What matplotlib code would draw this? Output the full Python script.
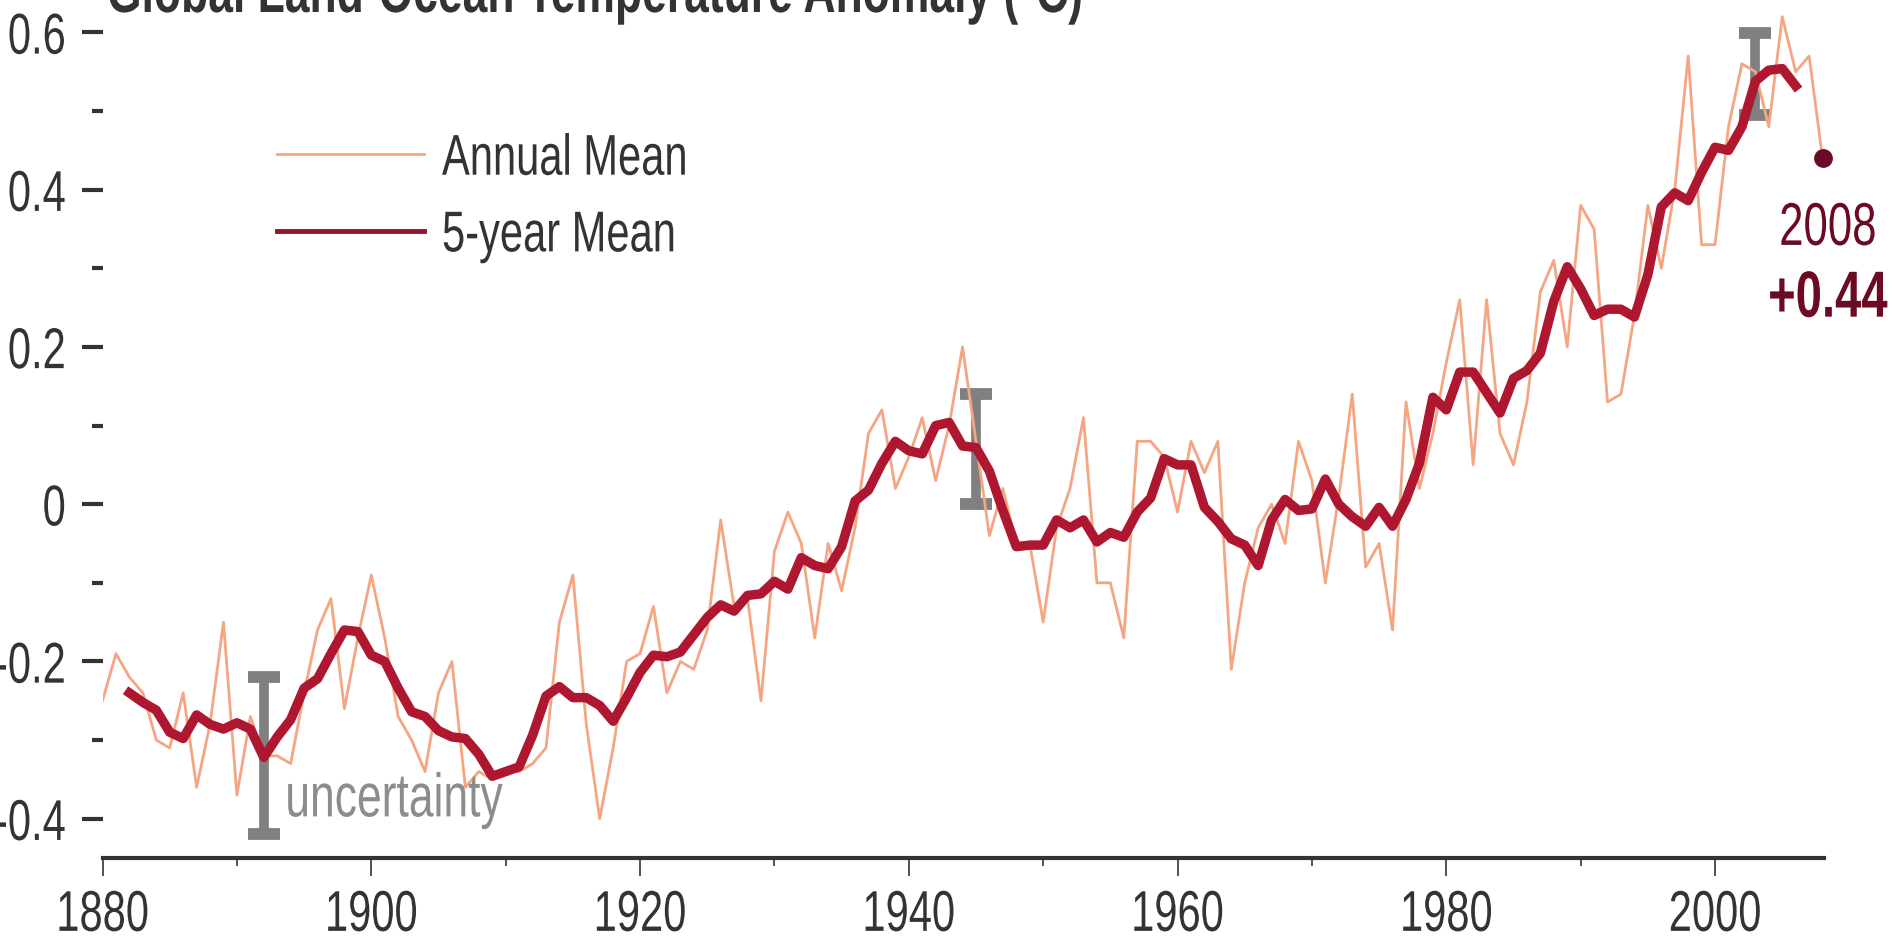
import matplotlib
matplotlib.use('Agg')
import matplotlib.pyplot as plt
from matplotlib import patheffects
from matplotlib.lines import Line2D
from matplotlib.ticker import MultipleLocator
from matplotlib.transforms import Affine2D

plt.rcParams['font.family'] = ['Liberation Sans', 'DejaVu Sans']
plt.rcParams['axes.unicode_minus'] = False

# annual global land-ocean temperature anomaly (deg C), 1880-2008
years = list(range(1880, 2009))
annual_mean = [
    -0.25, -0.19, -0.22, -0.24, -0.30, -0.31, -0.24, -0.36, -0.28, -0.15,  # 1880s
    -0.37, -0.27, -0.32, -0.32, -0.33, -0.24, -0.16, -0.12, -0.26, -0.17,  # 1890s
    -0.09, -0.17, -0.27, -0.30, -0.34, -0.24, -0.20, -0.36, -0.34, -0.35,  # 1900s
    -0.34, -0.34, -0.33, -0.31, -0.15, -0.09, -0.28, -0.40, -0.31, -0.20,  # 1910s
    -0.19, -0.13, -0.24, -0.20, -0.21, -0.16, -0.02, -0.13, -0.12, -0.25,  # 1920s
    -0.06, -0.01, -0.05, -0.17, -0.05, -0.11, -0.03, 0.09, 0.12, 0.02,     # 1930s
    0.06, 0.11, 0.03, 0.10, 0.20, 0.08, -0.04, 0.02, -0.05, -0.05,         # 1940s
    -0.15, -0.03, 0.02, 0.11, -0.10, -0.10, -0.17, 0.08, 0.08, 0.06,       # 1950s
    -0.01, 0.08, 0.04, 0.08, -0.21, -0.10, -0.03, 0.00, -0.05, 0.08,       # 1960s
    0.03, -0.10, 0.01, 0.14, -0.08, -0.05, -0.16, 0.13, 0.02, 0.09,        # 1970s
    0.18, 0.26, 0.05, 0.26, 0.09, 0.05, 0.13, 0.27, 0.31, 0.20,            # 1980s
    0.38, 0.35, 0.13, 0.14, 0.24, 0.38, 0.30, 0.40, 0.57, 0.33,            # 1990s
    0.33, 0.48, 0.56, 0.55, 0.48, 0.62, 0.55, 0.57, 0.44,                  # 2000s
]

# 5-year mean, 1882-2006
five_year_years = list(range(1882, 2007))
five_year_mean = [
    -0.240, -0.252, -0.262, -0.290, -0.298, -0.268, -0.280, -0.286, -0.278,
    -0.286, -0.322, -0.296, -0.274, -0.234, -0.222, -0.190, -0.160, -0.162, -0.192,
    -0.200, -0.234, -0.264, -0.270, -0.288, -0.296, -0.298, -0.318, -0.346, -0.340,
    -0.334, -0.294, -0.244, -0.232, -0.246, -0.246, -0.256, -0.276, -0.246, -0.214,
    -0.192, -0.194, -0.188, -0.166, -0.144, -0.128, -0.136, -0.116, -0.114, -0.098,
    -0.108, -0.068, -0.078, -0.082, -0.054, 0.004, 0.018, 0.052, 0.080, 0.068,
    0.064, 0.100, 0.104, 0.074, 0.072, 0.042, -0.008, -0.054, -0.052, -0.052,
    -0.020, -0.030, -0.020, -0.048, -0.036, -0.042, -0.010, 0.008, 0.058, 0.050,
    0.050, -0.004, -0.022, -0.044, -0.052, -0.078, -0.020, 0.006, -0.008, -0.006,
    0.032, 0.000, -0.016, -0.028, -0.004, -0.028, 0.006, 0.052, 0.136, 0.120,
    0.168, 0.168, 0.142, 0.116, 0.160, 0.170, 0.192, 0.258, 0.302, 0.274,
    0.240, 0.248, 0.248, 0.238, 0.292, 0.378, 0.396, 0.386, 0.422, 0.454,
    0.450, 0.480, 0.538, 0.552, 0.554, 0.532,
]

# uncertainty bars
unc_years = [1892, 1945, 2003]
unc_mid = [-0.32, 0.07, 0.547]
unc_err = [0.10, 0.07, 0.052]

last_year = 2008
last_value = 0.44

y_ticks = [-0.4, -0.2, 0, 0.2, 0.4, 0.6]
y_labels = ['-0.4', '-0.2', '0', '0.2', '0.4', '0.6']
x_ticks = [1880, 1900, 1920, 1940, 1960, 1980, 2000]

annual_color = '#F5A582'
smooth_color = '#AE172F'
last_color = '#6B0A22'
text_color = '#333333'


class StretchY(patheffects.AbstractPathEffect):
    """Draw text glyphs taller than wide, like the condensed font of the original."""

    def __init__(self, sy, center=0.0):
        super().__init__()
        self._stretch = Affine2D().translate(0, -center).scale(1, sy).translate(0, center)

    def draw_path(self, renderer, gc, tpath, affine, rgbFace=None):
        renderer.draw_path(gc, tpath, self._stretch + affine, rgbFace)


tall_mid = [StretchY(1.38, 36)]   # stretch about the middle of the digits
tall_base = [StretchY(1.38, 0)]   # stretch about the baseline

fig = plt.figure(figsize=(18.92, 9.37), dpi=100)
ax = fig.add_axes([0.0542, 0.0832, 0.9098, 0.9168])

ax.errorbar(unc_years, unc_mid, yerr=unc_err, fmt='none', ecolor='#808080',
            elinewidth=7, capsize=11.5, capthick=8.5, zorder=1)
ax.plot(years, annual_mean, color=annual_color, lw=2, zorder=2)
ax.plot(five_year_years, five_year_mean, color=smooth_color, lw=6.8,
        solid_joinstyle='round', zorder=3)
ax.plot([last_year], [last_value], 'o', color=last_color, ms=12.5,
        clip_on=False, zorder=4)

ax.text(1893.6, -0.397, 'uncertainty', color='#8c8c8c', fontsize=32,
        ha='left', va='baseline', path_effects=tall_base)
ax.text(2008.4, 0.352, '2008', color=last_color, fontsize=31.5,
        ha='center', va='center', path_effects=tall_mid)
ax.text(2008.4, 0.262, '+0.44', color=last_color, fontsize=34,
        fontweight='bold', ha='center', va='center', path_effects=tall_mid)

fig.text(107 / 1892, 1 - 13 / 937, 'Global Land-Ocean Temperature Anomaly (\u00b0C)',
         color=text_color, fontsize=32, fontweight='bold', ha='left', va='baseline',
         path_effects=tall_base)

handles = [Line2D([], [], color=annual_color, lw=2),
           Line2D([], [], color='#8E1530', lw=3.5)]
leg = ax.legend(handles, ['Annual Mean', '5-year Mean'], loc='upper left',
                bbox_to_anchor=(277 / 1892, 1 - 139 / 937), bbox_transform=fig.transFigure,
                frameon=False, fontsize=30, handlelength=3.53, handletextpad=0.43,
                labelspacing=0.88, borderpad=0, borderaxespad=0, labelcolor=text_color)
for t in leg.get_texts():
    t.set_path_effects(tall_mid)

ax.set_xlim(1880, 2008.1)
ax.set_ylim(-0.450, 0.6425)

for side in ['left', 'top', 'right']:
    ax.spines[side].set_visible(False)
ax.spines['bottom'].set_linewidth(3)
ax.spines['bottom'].set_color(text_color)

ax.set_xticks(x_ticks)
ax.xaxis.set_minor_locator(MultipleLocator(10))
ax.set_yticks(y_ticks)
ax.set_yticklabels(y_labels)
ax.yaxis.set_minor_locator(MultipleLocator(0.1))

ax.tick_params(axis='x', which='major', length=13, width=1.2, pad=13,
               labelsize=30, colors=text_color)
ax.tick_params(axis='x', which='minor', length=6, width=1.2, colors=text_color)
ax.tick_params(axis='y', which='major', length=15, width=3, pad=11.5,
               labelsize=30, colors=text_color)
ax.tick_params(axis='y', which='minor', length=8, width=3, colors=text_color)

for lab in ax.get_xticklabels() + ax.get_yticklabels():
    lab.set_path_effects(tall_mid)

fig.savefig('out.png', dpi=100)
